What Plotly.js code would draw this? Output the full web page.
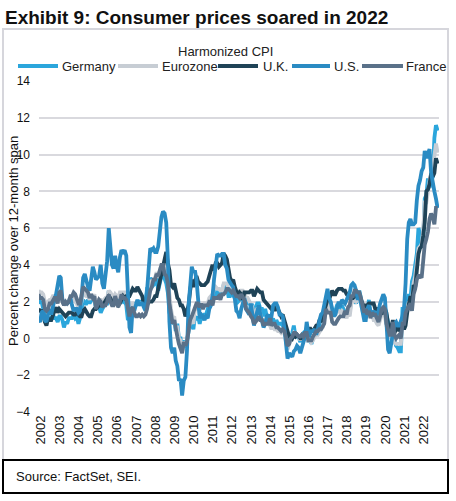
<!DOCTYPE html>
<html>
<head>
<meta charset="utf-8">
<script src="https://cdn.plot.ly/plotly-3.0.1.min.js"></script>
<style>
html,body{margin:0;padding:0;background:#fff;}
#chart{width:456px;height:501px;}
</style>
</head>
<body>
<div id="chart"></div>
<script>
// Years covered (monthly data Jan 2002 - Nov 2022)
const years = [2002,2003,2004,2005,2006,2007,2008,2009,2010,2011,2012,2013,2014,2015,2016,2017,2018,2019,2020,2021,2022];
const tickLabels = ["2002","2003","2004","2005","2006","2007","2008","2009","2010","2011","2012","2013","2014","2015","2016","2017","2018","2019","2020","2021","2022"];
const seriesNames = ["Germany","Eurozone","U.K.","U.S.","France"];

const germany = [
 2.3,1.9,2.0,1.6,1.0,0.8,1.0,1.1,1.1,1.3,1.1,1.1,
 0.9,1.2,1.2,1.0,0.6,0.9,0.8,1.1,1.1,1.1,1.3,1.1,
 1.2,0.8,1.1,1.7,2.1,1.9,1.9,2.1,1.9,2.1,2.1,2.2,
 1.6,2.0,1.6,1.4,1.6,1.8,1.9,1.9,2.6,2.4,2.1,2.1,
 2.1,2.1,1.9,2.3,2.1,2.0,2.1,1.8,1.0,1.1,1.5,1.4,
 1.8,1.9,2.0,2.0,2.0,2.0,2.0,2.0,2.7,2.7,3.3,3.1,
 2.9,3.0,3.3,2.6,3.1,3.4,3.5,3.3,3.0,2.5,1.4,1.1,
 0.9,1.0,0.4,0.8,0.0,0.0,-0.7,-0.1,-0.5,-0.1,0.3,0.8,
 0.8,0.5,1.2,1.0,1.2,0.8,1.2,1.0,1.3,1.3,1.6,1.9,
 2.0,2.2,2.3,2.7,2.4,2.4,2.6,2.5,2.9,2.9,2.8,2.3,
 2.3,2.5,2.3,2.2,2.2,2.0,2.1,2.2,2.1,2.1,1.9,2.0,
 1.9,1.8,1.8,1.1,1.6,1.9,1.9,1.6,1.6,1.2,1.6,1.2,
 1.2,1.0,0.9,1.1,0.6,1.0,0.8,0.8,0.8,0.7,0.5,0.1,
 -0.5,0.0,0.1,0.3,0.7,0.1,0.1,0.1,-0.2,0.2,0.3,0.2,
 0.4,-0.2,0.1,-0.3,0.0,0.2,0.4,0.3,0.5,0.7,0.7,1.7,
 1.9,2.2,1.5,2.0,1.4,1.5,1.5,1.8,1.8,1.5,1.8,1.6,
 1.4,1.2,1.5,1.4,2.2,2.1,2.1,1.9,2.2,2.6,2.2,1.7,
 1.7,1.7,1.4,2.1,1.3,1.5,1.1,1.0,0.9,0.9,1.2,1.5,
 1.6,1.7,1.3,0.8,0.5,0.8,0.0,-0.1,-0.4,-0.5,-0.7,-0.7,
 1.6,1.6,2.0,2.1,2.4,2.1,3.1,3.4,4.1,4.6,6.0,5.7,
 5.1,5.5,7.6,7.8,8.7,8.2,8.5,8.8,10.9,11.6,11.3
];
const eurozone = [
 2.6,2.5,2.5,2.4,2.0,1.9,2.0,2.1,2.1,2.3,2.3,2.3,
 2.1,2.4,2.5,2.1,1.8,1.9,1.9,2.1,2.2,2.0,2.2,2.0,
 1.9,1.6,1.7,2.0,2.5,2.4,2.3,2.3,2.1,2.4,2.2,2.4,
 1.9,2.1,2.1,2.1,2.0,2.1,2.2,2.2,2.6,2.5,2.3,2.2,
 2.4,2.3,2.2,2.5,2.5,2.5,2.5,2.3,1.7,1.6,1.9,1.9,
 1.8,1.8,1.9,1.9,1.9,1.9,1.8,1.7,2.1,2.6,3.1,3.1,
 3.2,3.3,3.6,3.3,3.7,4.0,4.0,3.8,3.6,3.2,2.1,1.6,
 1.1,1.2,0.6,0.6,0.0,-0.1,-0.6,-0.2,-0.3,-0.1,0.5,0.9,
 1.0,0.8,1.6,1.6,1.7,1.5,1.7,1.6,1.9,1.9,1.9,2.2,
 2.3,2.4,2.7,2.8,2.7,2.7,2.6,2.6,3.0,3.0,3.0,2.7,
 2.7,2.7,2.7,2.6,2.4,2.4,2.4,2.6,2.6,2.5,2.2,2.2,
 2.0,1.8,1.7,1.2,1.4,1.6,1.6,1.3,1.1,0.7,0.9,0.8,
 0.8,0.7,0.5,0.7,0.5,0.5,0.4,0.4,0.3,0.4,0.3,-0.2,
 -0.6,-0.3,-0.1,0.2,0.3,0.2,0.2,0.1,-0.1,0.1,0.1,0.2,
 0.3,-0.2,0.0,-0.2,-0.1,0.1,0.2,0.2,0.4,0.5,0.6,1.1,
 1.7,2.0,1.5,1.9,1.4,1.3,1.3,1.5,1.5,1.4,1.5,1.4,
 1.3,1.1,1.4,1.2,1.9,2.0,2.1,2.0,2.1,2.2,1.9,1.5,
 1.4,1.5,1.4,1.7,1.2,1.3,1.0,1.0,0.8,0.7,1.0,1.3,
 1.4,1.2,0.7,0.3,0.1,0.3,0.4,-0.2,-0.3,-0.3,-0.3,-0.3,
 0.9,0.9,1.3,1.6,2.0,1.9,2.2,3.0,3.4,4.1,4.9,5.0,
 5.1,5.9,7.4,7.4,8.1,8.6,8.9,9.1,9.9,10.6,10.1
];
const uk = [
 1.6,1.5,1.5,1.3,0.9,0.7,1.1,1.0,1.0,1.3,1.5,1.7,
 1.4,1.6,1.5,1.4,1.3,1.2,1.3,1.4,1.4,1.4,1.3,1.3,
 1.4,1.3,1.2,1.2,1.5,1.6,1.4,1.3,1.2,1.2,1.5,1.6,
 1.6,1.7,1.8,1.8,1.8,1.9,2.1,2.2,2.3,2.2,2.0,1.9,
 1.9,1.9,1.8,1.9,2.1,2.3,2.2,2.3,2.3,2.3,2.5,2.7,
 2.6,2.6,2.8,2.6,2.4,2.3,1.9,1.8,1.8,2.0,2.0,2.0,
 2.1,2.3,2.3,2.7,3.0,3.4,3.9,4.2,4.7,4.1,3.7,2.9,
 2.8,3.0,2.7,2.2,2.1,1.8,1.8,1.6,1.2,1.5,1.8,2.6,
 3.2,2.8,3.1,3.4,3.1,3.0,2.9,2.9,2.9,3.0,3.1,3.4,
 3.7,4.0,3.7,4.1,4.1,3.9,4.0,4.1,4.6,4.5,4.3,3.8,
 3.3,3.1,3.2,2.8,2.6,2.3,2.5,2.4,2.1,2.5,2.5,2.5,
 2.5,2.6,2.6,2.3,2.5,2.7,2.6,2.5,2.5,2.1,2.0,1.9,
 1.8,1.7,1.6,1.7,1.5,1.8,1.6,1.5,1.2,1.3,1.0,0.6,
 0.4,0.1,0.1,0.0,0.2,0.1,0.2,0.1,0.0,0.0,0.2,0.3,
 0.4,0.4,0.6,0.4,0.4,0.6,0.7,0.7,1.0,0.9,1.2,1.5,
 1.7,2.1,2.1,2.4,2.6,2.4,2.4,2.6,2.7,2.7,2.7,2.6,
 2.6,2.4,2.3,2.2,2.2,2.2,2.3,2.4,2.2,2.2,2.1,1.9,
 1.7,1.8,1.8,1.9,1.9,1.9,1.9,1.6,1.6,1.5,1.5,1.3,
 1.7,1.6,1.4,0.8,0.5,0.6,1.0,0.3,0.5,0.7,0.4,0.6,
 0.7,0.5,0.7,1.4,2.0,2.3,1.9,2.9,2.8,3.8,4.6,4.9,
 5.0,5.6,6.3,8.0,8.1,8.4,9.0,8.8,9.0,9.8,9.5
];
const us = [
 1.0,0.9,1.4,1.5,1.0,0.9,1.3,1.6,1.3,1.8,2.1,2.4,
 2.8,3.4,3.3,2.1,1.9,1.9,1.9,2.0,2.2,1.8,1.5,1.6,
 1.6,1.4,1.5,2.3,3.3,3.5,3.1,2.8,2.6,3.5,3.9,3.6,
 3.2,3.3,3.4,4.0,3.0,2.7,3.6,4.2,6.0,5.2,4.0,3.8,
 4.5,3.9,3.6,4.4,4.8,4.7,4.8,4.5,2.3,0.6,0.3,1.7,
 1.5,1.9,2.1,1.8,1.9,1.9,1.7,1.5,2.6,3.9,4.9,4.8,
 4.9,4.7,4.7,5.0,5.8,6.6,6.9,6.8,6.3,4.4,0.9,-0.5,
 -0.8,-0.5,-1.2,-1.5,-2.3,-2.2,-3.1,-2.3,-2.1,-0.7,1.8,3.0,
 3.9,3.6,3.7,3.2,2.3,1.1,1.3,1.2,1.0,1.2,1.1,1.6,
 1.8,2.3,3.2,3.8,4.6,4.5,4.5,4.6,4.6,4.0,3.8,3.2,
 3.0,2.9,2.8,2.2,1.5,1.4,1.1,1.6,2.0,2.2,1.6,1.4,
 1.3,1.9,1.2,0.7,1.1,1.6,1.8,1.3,1.0,0.6,0.8,1.2,
 1.3,0.8,1.2,1.8,1.9,1.9,1.7,1.3,1.3,1.2,0.6,-0.1,
 -1.1,-0.8,-0.9,-1.0,-0.7,-0.6,-0.4,-0.5,-0.8,-0.5,-0.2,0.1,
 0.9,0.3,0.2,0.4,0.4,0.5,0.2,0.5,1.0,1.3,1.4,1.9,
 2.4,2.7,2.2,2.0,1.6,1.2,1.3,1.6,2.0,1.7,2.1,2.0,
 1.9,2.1,2.3,2.5,2.9,3.0,2.9,2.6,2.1,2.4,1.9,1.4,
 1.0,1.0,1.6,1.8,1.5,1.2,1.5,1.3,1.3,1.5,1.9,2.2,
 2.4,2.2,1.1,-0.6,-0.8,-0.2,0.4,0.8,0.9,0.7,0.7,1.0,
 1.2,1.7,3.0,5.4,6.3,6.5,6.2,6.2,6.3,7.5,8.3,8.6,
 9.1,9.3,10.2,9.8,10.0,10.3,9.0,8.4,8.0,7.6,7.1
];
const france = [
 2.4,2.2,2.2,2.1,1.6,1.5,1.6,1.9,1.9,2.1,2.2,2.2,
 1.9,2.5,2.6,2.0,1.8,2.0,1.9,2.0,2.3,2.3,2.5,2.4,
 2.2,1.9,1.9,2.4,2.8,2.7,2.6,2.5,2.2,2.4,2.2,2.3,
 1.6,1.9,2.1,2.0,1.7,1.8,1.8,2.0,2.4,2.0,1.8,1.8,
 2.3,2.0,1.7,2.0,2.4,2.2,2.2,2.1,1.5,1.2,1.6,1.7,
 1.4,1.2,1.2,1.3,1.2,1.3,1.2,1.3,1.6,2.1,2.6,2.8,
 3.2,3.2,3.5,3.4,3.7,4.0,4.0,3.5,3.4,3.0,1.9,1.2,
 0.8,1.0,0.4,0.1,-0.3,-0.6,-0.8,-0.2,-0.4,-0.2,0.5,1.0,
 1.2,1.4,1.7,1.9,1.9,1.7,1.9,1.6,1.8,1.8,1.8,2.0,
 2.0,1.8,2.2,2.2,2.2,2.3,2.1,2.4,2.4,2.5,2.7,2.7,
 2.6,2.5,2.6,2.4,2.3,2.3,2.2,2.4,2.2,2.1,1.6,1.5,
 1.4,1.2,1.1,0.8,0.9,1.0,1.2,1.0,1.0,0.7,0.8,0.8,
 0.8,1.1,0.7,0.8,0.8,0.6,0.6,0.5,0.4,0.5,0.4,0.1,
 -0.4,-0.3,0.0,0.1,0.3,0.3,0.2,0.1,0.1,0.2,0.1,0.3,
 0.3,-0.1,-0.1,-0.1,0.1,0.3,0.4,0.4,0.5,0.5,0.7,0.8,
 1.6,1.4,1.4,1.4,0.9,0.8,0.8,1.0,1.1,1.2,1.2,1.2,
 1.5,1.3,1.7,1.8,2.3,2.3,2.6,2.6,2.5,2.5,2.2,1.9,
 1.4,1.6,1.3,1.5,1.1,1.4,1.3,1.3,1.1,0.9,1.2,1.6,
 1.7,1.6,0.8,0.4,0.2,0.2,0.9,0.2,0.0,0.1,0.2,0.0,
 0.8,0.8,1.4,1.6,1.8,1.9,1.5,2.4,2.7,3.2,3.4,3.4,
 3.3,4.2,5.1,5.4,5.8,6.5,6.8,6.6,6.2,7.1,7.1
];

const colors = ["#2ba6dc","#c7cdd4","#1f4357","#2a8bc3","#5a7189"];
const allSeries = [germany, eurozone, uk, us, france];

// monthly date categories
const months = [];
years.forEach(function(y){
  for (let m = 1; m <= 12; m++) {
    months.push(y + "-" + (m < 10 ? "0" + m : m) + "-01");
  }
});

const traces = allSeries.map(function(vals, i){
  return {
    type: "scatter",
    mode: "lines",
    name: seriesNames[i],
    x: months.slice(0, vals.length),
    y: vals,
    line: {color: colors[i], width: 3.8},
    showlegend: false,
    hoverinfo: "skip"
  };
});

// plot-area geometry in pixels (for placing decorations in paper units)
const W = 456, H = 501, L = 39, R = 17, T = 81, B = 89;
const pw = W - L - R, ph = H - T - B;
function px(x){ return (x - L) / pw; }
function py(y){ return (H - B - y) / ph; }

const FONT = "Liberation Sans, Arial, sans-serif";
const shapes = [];
const annotations = [];

// outer light frame
shapes.push({type:"rect", xref:"paper", yref:"paper", x0:px(3), x1:px(448), y0:py(460), y1:py(29),
  line:{color:"#d6d6dc", width:2}, fillcolor:"rgba(0,0,0,0)", layer:"below"});
// source box
shapes.push({type:"rect", xref:"paper", yref:"paper", x0:px(3), x1:px(448), y0:py(493), y1:py(460),
  line:{color:"#000000", width:2}, fillcolor:"rgba(0,0,0,0)"});
annotations.push({xref:"paper", yref:"paper", x:px(14), y:py(476), xanchor:"left", yanchor:"middle",
  text:"Source: FactSet, SEI.", showarrow:false, font:{family:FONT, size:13, color:"#111"}});

// y-axis title, placed as in the reference (overlapping the tick-label column)
annotations.push({xref:"paper", yref:"paper", x:px(13), y:py(241), xanchor:"center", yanchor:"middle",
  textangle:-90, text:"Percent change over 12-month span", showarrow:false,
  font:{family:FONT, size:13, color:"#111"}});

// legend (title + samples)
annotations.push({xref:"paper", yref:"paper", x:px(225), y:py(51), xanchor:"center", yanchor:"middle",
  text:"Harmonized CPI", showarrow:false, font:{family:FONT, size:13, color:"#222"}});
const legLineX = [[18,58],[118,158],[218,258],[292,330],[362,403]];
const legTextX = [60,160,261,332,404];
seriesNames.forEach(function(n, i){
  shapes.push({type:"line", xref:"paper", yref:"paper", x0:px(legLineX[i][0]), x1:px(legLineX[i][1]),
    y0:py(66), y1:py(66), line:{color:colors[i], width:4}});
  annotations.push({xref:"paper", yref:"paper", x:px(legTextX[i]), y:py(66), xanchor:"left", yanchor:"middle",
    text:n, showarrow:false, font:{family:FONT, size:13, color:"#222"}});
});

const tickVals = years.map(function(y){ return y + "-02-10"; });

const layout = {
  width: W, height: H,
  margin: {l:L, r:R, t:T, b:B},
  paper_bgcolor: "#ffffff",
  plot_bgcolor: "#ffffff",
  showlegend: false,
  title: {
    text: "<b>Exhibit 9: Consumer prices soared in 2022</b>",
    x: 5/W, xanchor: "left", xref: "container",
    y: 1 - 17/H, yanchor: "middle", yref: "container",
    font: {family:FONT, size:19, color:"#111"}
  },
  xaxis: {
    type: "date",
    range: ["2002-01-10","2022-11-28"],
    tickmode: "array",
    tickvals: tickVals,
    ticktext: tickLabels,
    tickangle: -90,
    showgrid: false,
    zeroline: false,
    showline: false,
    ticks: "",
    tickfont: {family:FONT, size:13, color:"#111"},
    fixedrange: true
  },
  yaxis: {
    range: [-4, 14],
    tickmode: "linear",
    tick0: -4,
    dtick: 2,
    showgrid: true,
    gridcolor: "#d9d9de",
    gridwidth: 2,
    zeroline: false,
    showline: false,
    ticks: "",
    ticklabelstandoff: 8,
    tickfont: {family:FONT, size:12, color:"#111"},
    fixedrange: true
  },
  shapes: shapes,
  annotations: annotations
};

Plotly.newPlot("chart", traces, layout, {displayModeBar:false, staticPlot:true});
</script>
</body>
</html>
